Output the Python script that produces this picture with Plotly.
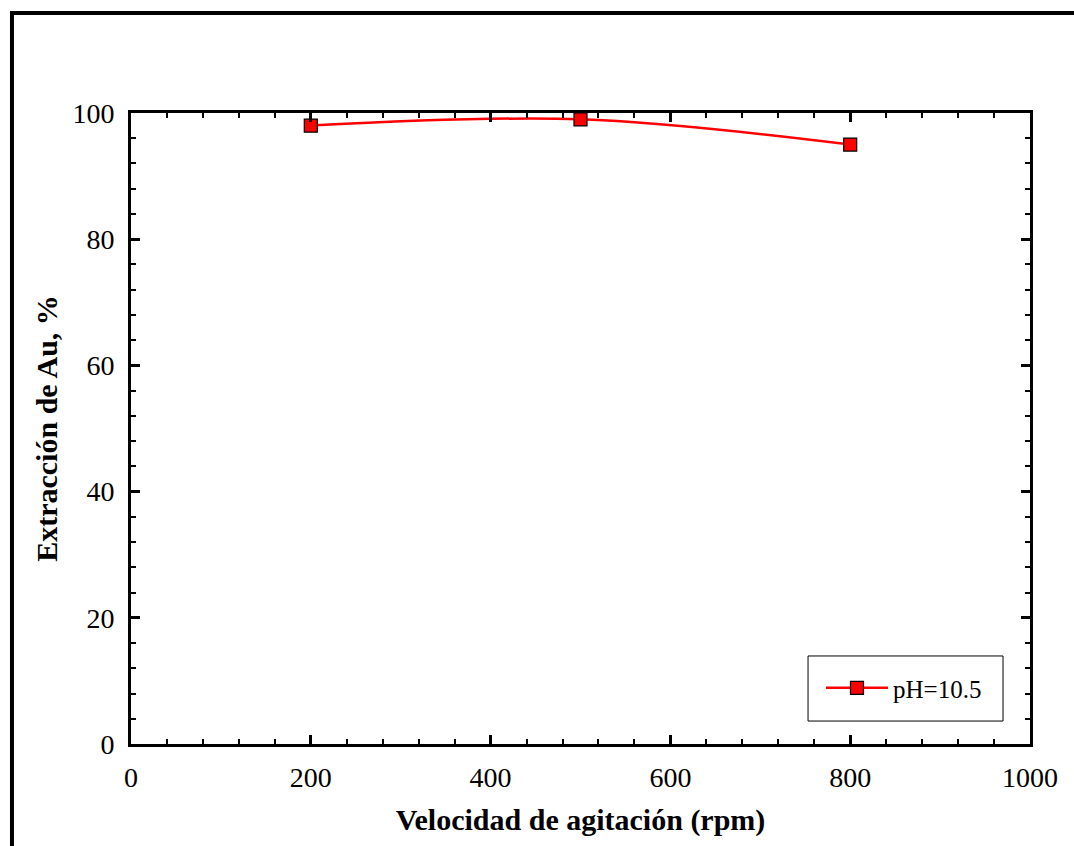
import plotly.graph_objects as go

velocidad = [200, 500, 800]
extraccion = [98, 99, 95]
serie = "pH=10.5"
x_ticks = [0, 200, 400, 600, 800, 1000]
y_ticks = [0, 20, 40, 60, 80, 100]

FONT = "Liberation Serif, Times New Roman, serif"

fig = go.Figure()
fig.add_trace(go.Scatter(
    x=velocidad, y=extraccion, name=serie, mode="lines+markers",
    line=dict(color="#ff0000", width=2.5, shape="spline", smoothing=1.0),
    marker=dict(symbol="square", size=13, color="#ff0000",
                line=dict(color="#000000", width=1.2)),
))

axis_common = dict(
    showline=True, linecolor="black", linewidth=3, mirror="ticks",
    ticks="inside", ticklen=9, tickwidth=2.5, tickcolor="black",
    showgrid=False, zeroline=False,
    tickfont=dict(family=FONT, size=28, color="black"),
)

fig.update_xaxes(
    range=[0, 1000], tickvals=x_ticks, ticklabelstandoff=6,
    minor=dict(ticks="inside", ticklen=5, tickwidth=1.5, dtick=40, tickcolor="black", showgrid=False),
    title=dict(text="<b>Velocidad de agitación (rpm)</b>",
               font=dict(family=FONT, size=30, color="black"), standoff=18),
    **axis_common,
)
fig.update_yaxes(
    range=[0, 100], tickvals=y_ticks, ticklabelstandoff=8,
    minor=dict(ticks="inside", ticklen=5, tickwidth=1.5, dtick=4, tickcolor="black", showgrid=False),
    title=dict(text="<b>Extracción de Au, %</b>",
               font=dict(family=FONT, size=30, color="black"), standoff=6),
    **axis_common,
)

# outer frame
fig.add_shape(type="rect", xref="paper", yref="paper",
              x0=-0.1324, x1=1.06, y0=-0.17, y1=1.1585,
              line=dict(color="black", width=4), fillcolor="rgba(0,0,0,0)", layer="below")
# legend box
fig.add_shape(type="rect", xref="paper", yref="paper",
              x0=0.7531, x1=0.970, y0=0.0364, y1=0.1395,
              line=dict(color="black", width=1), fillcolor="white", layer="below")

fig.update_layout(
    width=1074, height=846,
    margin=dict(l=131, r=44, t=113, b=102),
    paper_bgcolor="white", plot_bgcolor="white",
    showlegend=True,
    legend=dict(x=0.7675, y=0.0887, xanchor="left", yanchor="middle",
                borderwidth=0, bgcolor="rgba(0,0,0,0)",
                font=dict(family=FONT, size=25, color="black"),
                itemwidth=62, tracegroupgap=0),
)

fig.write_html("out.html")
